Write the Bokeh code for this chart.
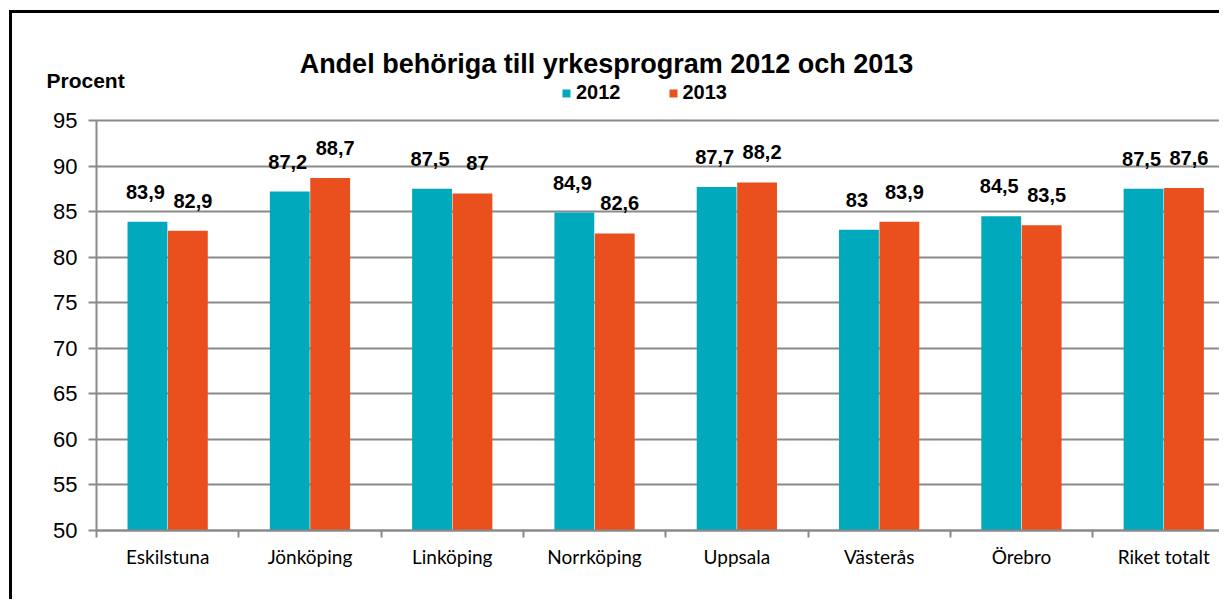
from bokeh.plotting import figure
from bokeh.models import (ColumnDataSource, FixedTicker, LabelSet, Label, Legend,
                          LegendItem, Range1d)
from bokeh.core.properties import value
from bokeh.transform import dodge
from bokeh.embed import file_html
from bokeh.resources import INLINE

# ---------------- data ----------------
categories = ["Eskilstuna", "Jönköping", "Linköping", "Norrköping",
              "Uppsala", "Västerås", "Örebro", "Riket totalt"]
values_2012 = [83.9, 87.2, 87.5, 84.9, 87.7, 83.0, 84.5, 87.5]
values_2013 = [82.9, 88.7, 87.0, 82.6, 88.2, 83.9, 83.5, 87.6]
series_names = ["2012", "2013"]
y_ticks = [50, 55, 60, 65, 70, 75, 80, 85, 90, 95]
title_text = "Andel behöriga till yrkesprogram 2012 och 2013"
y_label_text = "Procent"

# ---------------- styling / layout ----------------
TEAL = "#00A9BB"
ORANGE = "#E9501E"
GRID = "#8A8A8A"
ARIAL = "Liberation Sans"
CAT_FONT = "Lato"

W, H = 1219, 599
ML = 46                    # frame spans from x=ML to the right edge, full height
AXIS_X = 96                # pixel where the value axis sits
AXIS_BOTTOM = 530          # pixel of y=50
AXIS_TOP = 120             # pixel of y=95
cat_px = 142.3
bar_w = 0.28
off = 0.142

px_per_unit = (AXIS_BOTTOM - AXIS_TOP) / (y_ticks[-1] - y_ticks[0])
y_top = y_ticks[-1] + AXIS_TOP / px_per_unit
y_bottom = y_ticks[0] - (H - AXIS_BOTTOM) / px_per_unit
x_start = -(AXIS_X - ML) / cat_px
x_end = (W - AXIS_X) / cat_px

centers = [i + 0.5 for i in range(len(categories))]
bounds = [float(i) for i in range(len(categories) + 1)]


def fmt(v):
    return f"{v:g}".replace(".", ",")


source = ColumnDataSource(dict(
    x=centers,
    cat=categories,
    v12=values_2012,
    v13=values_2013,
    t12=[fmt(v) for v in values_2012],
    t13=[fmt(v) for v in values_2013],
))

p = figure(width=W, height=H, output_backend="svg", toolbar_location=None,
           x_range=Range1d(x_start, x_end), y_range=Range1d(y_bottom, y_top),
           min_border_left=ML, min_border_right=0, min_border_top=0, min_border_bottom=0)
# outer chart frame (left and top lines; right/bottom are cut off in the original)
p.styles = {"background": "linear-gradient(#000,#000) 9px 10px / 3px calc(100% - 10px) no-repeat, "
                          "linear-gradient(#000,#000) 9px 10px / calc(100% - 9px) 3px no-repeat"}
p.outline_line_color = None
p.background_fill_color = None
p.border_fill_color = None

r12 = p.vbar(x=dodge("x", -off, range=p.x_range), top="v12", bottom=y_ticks[0], width=bar_w,
             source=source, fill_color=TEAL, line_color=None)
r13 = p.vbar(x=dodge("x", off, range=p.x_range), top="v13", bottom=y_ticks[0], width=bar_w,
             source=source, fill_color=ORANGE, line_color=None)

# data labels
for col, tcol, dx, xo in (("v12", "t12", -off, -2), ("v13", "t13", off, 5)):
    ls = LabelSet(x=dodge("x", dx, range=p.x_range), y=col, text=tcol, source=source,
                  text_align="center", text_baseline="alphabetic",
                  x_offset=xo, y_offset=23,
                  text_font=value(ARIAL), text_font_style="bold", text_font_size="20px",
                  text_color="black")
    p.add_layout(ls)

# x axis, drawn at y=50
xa = p.xaxis[0]
xa.fixed_location = y_ticks[0]
xa.ticker = FixedTicker(ticks=centers, minor_ticks=bounds)
xa.bounds = (0, x_end)
xa.major_label_overrides = {c: lab for c, lab in zip(centers, categories)}
xa.major_tick_line_color = None
xa.major_tick_out = 0
xa.major_tick_in = 0
xa.minor_tick_out = 7
xa.minor_tick_in = 0
xa.minor_tick_line_color = GRID
xa.minor_tick_line_width = 2
xa.axis_line_color = GRID
xa.axis_line_width = 2
xa.major_label_standoff = 7
xa.major_label_text_font = CAT_FONT
xa.major_label_text_font_size = "19px"
xa.major_label_text_color = "black"

# y axis, drawn at the left edge of the first category
ya = p.yaxis[0]
ya.fixed_location = 0
ya.bounds = (y_ticks[0], y_ticks[-1])
ya.ticker = FixedTicker(ticks=y_ticks, minor_ticks=[])
ya.major_tick_out = 8
ya.major_tick_in = 0
ya.major_tick_line_color = GRID
ya.major_tick_line_width = 2
ya.axis_line_color = GRID
ya.axis_line_width = 2
ya.major_label_standoff = 11
ya.major_label_text_font = ARIAL
ya.major_label_text_font_size = "22px"
ya.major_label_text_color = "black"

p.xgrid.grid_line_color = None
p.ygrid.ticker = FixedTicker(ticks=y_ticks, minor_ticks=[])
p.ygrid.cross_bounds = (0, x_end)
p.ygrid.grid_line_color = GRID
p.ygrid.grid_line_width = 2

# title and unit label
p.add_layout(Label(x=606 - ML, y=H - 63, x_units="screen", y_units="screen",
                   text=title_text, text_align="center", text_baseline="alphabetic",
                   text_font=ARIAL, text_font_style="bold", text_font_size="27px",
                   text_color="black"))
p.add_layout(Label(x=0, y=H - 80, x_units="screen", y_units="screen",
                   text=y_label_text, text_align="left", text_baseline="alphabetic",
                   text_font=ARIAL, text_font_style="bold", text_font_size="21px",
                   text_color="black"))

legend = Legend(items=[LegendItem(label=series_names[0], renderers=[r12]),
                       LegendItem(label=series_names[1], renderers=[r13])],
                location=(561 - ML, H - 104), orientation="horizontal",
                glyph_width=10, glyph_height=10, label_standoff=5, spacing=47,
                padding=0, margin=0, border_line_color=None, background_fill_alpha=0,
                label_text_font=ARIAL, label_text_font_style="bold",
                label_text_font_size="20px", label_text_color="black")
p.add_layout(legend)

open("out.html", "w").write(file_html(p, INLINE))
